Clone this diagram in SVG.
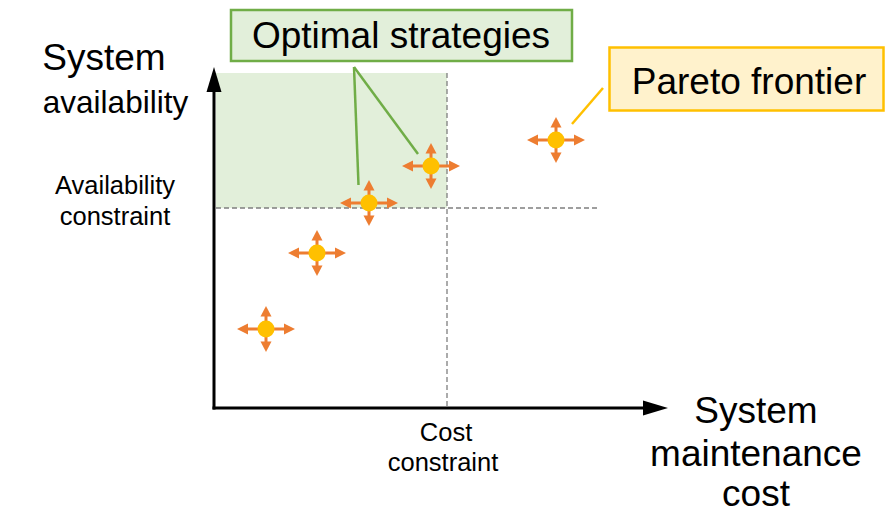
<svg xmlns="http://www.w3.org/2000/svg" width="885" height="514" viewBox="0 0 885 514">
<style>
text{font-family:"Liberation Sans",Arial,sans-serif;fill:#000}
.big{font-size:37px}
.small{font-size:25.5px}
.dash{stroke:#7f7f7f;stroke-width:1.3;stroke-dasharray:5 3;fill:none}
.axis{stroke:#000;stroke-width:3;fill:none}
.oa{stroke:#ED7D31;stroke-width:3}
</style>
<defs>
<g id="pt">
<line class="oa" x1="-19" y1="0" x2="19" y2="0"/>
<line class="oa" x1="0" y1="-13" x2="0" y2="13"/>
<polygon fill="#ED7D31" points="29,0 18,-5.5 18,5.5"/>
<polygon fill="#ED7D31" points="-29,0 -18,-5.5 -18,5.5"/>
<polygon fill="#ED7D31" points="0,-23 -5.5,-12.5 5.5,-12.5"/>
<polygon fill="#ED7D31" points="0,23 -5.5,12.5 5.5,12.5"/>
<circle r="8.5" fill="#FFC000"/>
</g>
</defs>
<g id="feasible-region">
<rect x="216" y="73" width="231" height="135" fill="#E2EFDA"/>
</g>
<g id="constraints">
<line class="dash" x1="447" y1="73" x2="447" y2="407"/>
<line class="dash" x1="216" y1="208" x2="598" y2="208"/>
</g>
<g id="axes">
<line class="axis" x1="214" y1="409.5" x2="214" y2="90"/>
<polygon points="214,67 206.5,92 221.5,92" fill="#000"/>
<line class="axis" x1="212.5" y1="408" x2="645" y2="408"/>
<polygon points="668,408 643,400.5 643,415.5" fill="#000"/>
</g>
<g id="connectors">
<line x1="354" y1="67" x2="358.5" y2="185" stroke="#70AD47" stroke-width="2.5"/>
<line x1="354" y1="67" x2="418" y2="154" stroke="#70AD47" stroke-width="2.5"/>
<line x1="603" y1="88" x2="572" y2="124" stroke="#FFC000" stroke-width="2.5"/>
</g>
<g id="p1"><use href="#pt" x="266" y="329"/></g>
<g id="p2"><use href="#pt" x="317" y="253"/></g>
<g id="p3"><use href="#pt" x="369" y="203"/></g>
<g id="p4"><use href="#pt" x="431" y="166"/></g>
<g id="p5"><use href="#pt" x="556" y="140"/></g>
<g id="optimal-label">
<rect x="231" y="10" width="341" height="51" fill="#E2EFDA" stroke="#70AD47" stroke-width="2.5"/>
<text class="big" x="401" y="48" text-anchor="middle">Optimal strategies</text>
</g>
<g id="pareto-label">
<rect x="609.5" y="47.5" width="274" height="63" fill="#FFF2CC" stroke="#FFC000" stroke-width="2.5"/>
<text class="big" x="749" y="94" text-anchor="middle">Pareto frontier</text>
</g>
<g id="y-label">
<text class="big" x="104" y="70" text-anchor="middle">System</text>
<text x="115.5" y="113" text-anchor="middle" style="font-size:31.5px">availability</text>
</g>
<g id="x-label">
<text class="big" x="756" y="423" text-anchor="middle">System</text>
<text class="big" x="756" y="466" text-anchor="middle">maintenance</text>
<text class="big" x="756" y="505.5" text-anchor="middle">cost</text>
</g>
<g id="availability-constraint">
<text class="small" x="115" y="194" text-anchor="middle">Availability</text>
<text class="small" x="115" y="225" text-anchor="middle">constraint</text>
</g>
<g id="cost-constraint">
<text class="small" x="446" y="441" text-anchor="middle">Cost</text>
<text class="small" x="443" y="471" text-anchor="middle">constraint</text>
</g>
</svg>
